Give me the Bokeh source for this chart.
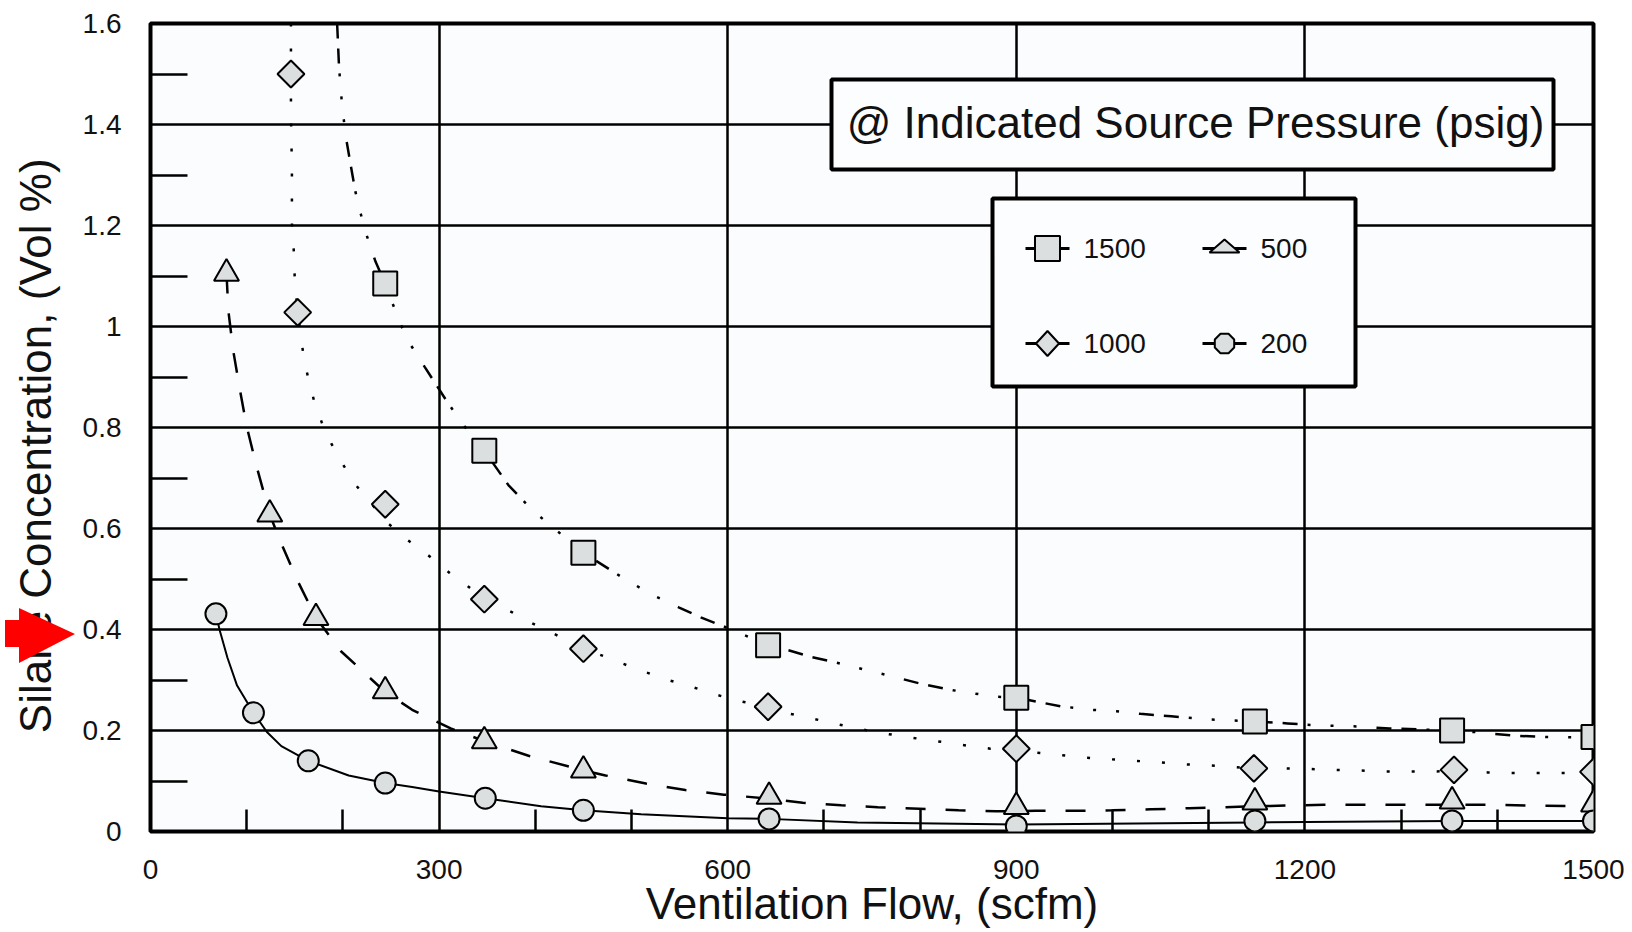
import math
from bokeh.plotting import figure
from bokeh.models import (Range1d, FixedTicker, CustomJSTickFormatter, Label,
                          BoxAnnotation, PolyAnnotation, Arrow, Div)
from bokeh.layouts import column
from bokeh.embed import file_html
from bokeh.resources import INLINE

# ---------------- data ----------------
x_ticks = [0, 300, 600, 900, 1200, 1500]
x_tick_labels = ["0", "300", "600", "900", "1200", "1500"]
x_minor_ticks = [100, 200, 400, 500, 700, 800, 1000, 1100, 1300, 1400]
y_ticks = [0, 0.2, 0.4, 0.6, 0.8, 1.0, 1.2, 1.4, 1.6]
y_tick_labels = ["0", "0.2", "0.4", "0.6", "0.8", "1", "1.2", "1.4", "1.6"]
y_minor_ticks = [0.1, 0.3, 0.5, 0.7, 0.9, 1.1, 1.3, 1.5]

x_label = "Ventilation Flow, (scfm)"
y_label = "Silane Concentration, (Vol %)"
title_text = "@ Indicated Source Pressure (psig)"
pressures = ["1500", "1000", "500", "200"]

# markers
sq_x = [244, 347, 450, 642, 900, 1148, 1353, 1500]
sq_y = [1.085, 0.754, 0.552, 0.369, 0.265, 0.218, 0.200, 0.187]
dm_x = [146, 153, 244, 347, 450, 642, 900, 1147, 1355, 1500]
dm_y = [1.50, 1.028, 0.648, 0.460, 0.362, 0.247, 0.164, 0.125, 0.122, 0.118]
tr_x = [79, 124, 172, 244, 347, 450, 643, 900, 1148, 1353, 1500]
tr_y = [1.105, 0.628, 0.423, 0.278, 0.179, 0.121, 0.069, 0.049, 0.058, 0.060, 0.054]
ci_x = [68, 107, 164, 244, 348, 450, 643, 900, 1148, 1353, 1500]
ci_y = [0.431, 0.235, 0.140, 0.096, 0.066, 0.042, 0.025, 0.011, 0.021, 0.021, 0.021]

# fitted curves as drawn in the picture
sq_curve_x = [194, 196, 199, 203, 208, 213, 222, 234, 244, 259, 270, 285, 308, 324, 347,
              372, 397, 421, 450, 488, 520, 549, 572, 596, 642, 661, 688, 712, 735, 765,
              800, 830, 854, 878, 900, 946, 978, 1004, 1029, 1061, 1099, 1148, 1182, 1213,
              1255, 1288, 1353, 1376, 1416, 1450, 1500]
sq_curve_y = [1.60, 1.513, 1.441, 1.376, 1.321, 1.267, 1.196, 1.128, 1.085, 1.008, 0.965,
              0.920, 0.852, 0.808, 0.754, 0.686, 0.636, 0.598, 0.552, 0.506, 0.470, 0.444,
              0.424, 0.406, 0.369, 0.360, 0.345, 0.335, 0.324, 0.310, 0.293, 0.281, 0.274,
              0.267, 0.265, 0.248, 0.241, 0.238, 0.233, 0.228, 0.222, 0.218, 0.214, 0.210,
              0.208, 0.204, 0.200, 0.197, 0.190, 0.187, 0.186]
dm_curve_x = [146, 146, 146, 147, 147, 149, 150, 153, 156, 159, 164, 170, 178, 188, 200,
              213, 247, 268, 290, 311, 331, 346, 376, 397, 420, 450, 466, 490, 514, 538,
              562, 586, 610, 642, 657, 681, 705, 728, 753, 777, 801, 824, 849, 873, 900,
              921, 947, 973, 998, 1023, 1049, 1074, 1100, 1147, 1176, 1202, 1229, 1256,
              1282, 1336, 1355, 1390, 1417, 1470, 1500]
dm_curve_y = [1.60, 1.50, 1.42, 1.314, 1.204, 1.148, 1.091, 1.028, 0.987, 0.942, 0.897,
              0.853, 0.810, 0.768, 0.727, 0.687, 0.610, 0.576, 0.545, 0.512, 0.484, 0.460,
              0.434, 0.412, 0.391, 0.362, 0.351, 0.333, 0.316, 0.300, 0.287, 0.272, 0.259,
              0.247, 0.236, 0.227, 0.216, 0.207, 0.197, 0.190, 0.183, 0.177, 0.170, 0.164,
              0.164, 0.156, 0.151, 0.146, 0.143, 0.140, 0.137, 0.133, 0.131, 0.125, 0.125,
              0.124, 0.122, 0.121, 0.119, 0.119, 0.120, 0.117, 0.116, 0.116, 0.118]
tr_curve_x = [79, 81, 86, 93, 100, 110, 124, 134, 152, 172, 198, 243, 272, 312, 347, 393,
              450, 473, 515, 556, 596, 643, 678, 718, 756, 799, 840, 879, 920, 960, 1000,
              1040, 1080, 1148, 1220, 1309, 1398, 1443, 1500]
tr_curve_y = [1.105, 1.030, 0.952, 0.874, 0.802, 0.725, 0.628, 0.579, 0.500, 0.423, 0.357,
              0.278, 0.241, 0.204, 0.179, 0.150, 0.121, 0.111, 0.095, 0.082, 0.073, 0.065,
              0.057, 0.052, 0.048, 0.045, 0.042, 0.040, 0.041, 0.041, 0.042, 0.044, 0.046,
              0.050, 0.053, 0.053, 0.053, 0.051, 0.050]
ci_curve_x = [68, 72, 80, 90, 107, 121, 136, 164, 206, 244, 272, 300, 348, 406, 450, 510,
              600, 643, 735, 900, 1148, 1353, 1500]
ci_curve_y = [0.431, 0.398, 0.344, 0.289, 0.235, 0.197, 0.169, 0.140, 0.111, 0.096, 0.088,
              0.079, 0.066, 0.050, 0.042, 0.034, 0.026, 0.025, 0.018, 0.014, 0.018, 0.021,
              0.021]

# ---------------- styling ----------------
FONT = "Liberation Sans"
INK = "black"
TXT = "#111111"
MFILL = "#dcdfdf"
BG = "#fbfcfd"

FW, FH = 1443, 808                  # frame size
BL, BT, BR, BB = 150, 23, 33, 101   # borders
FRAME_LEFT, FRAME_BOTTOM = BL, BT + FH


def sx(px):
    return px - FRAME_LEFT


def sy(py):
    return FRAME_BOTTOM - py


p = figure(width=BL + FW + BR, height=BT + FH + BB,
           x_range=Range1d(0, 1500), y_range=Range1d(0, 1.6),
           output_backend="svg", toolbar_location=None,
           min_border_left=BL, min_border_right=BR, min_border_top=BT, min_border_bottom=BB,
           background_fill_color=BG, border_fill_color="white")

p.outline_line_color = INK
p.outline_line_width = 4

p.xaxis.ticker = FixedTicker(ticks=x_ticks, minor_ticks=x_minor_ticks)
p.yaxis.ticker = FixedTicker(ticks=y_ticks, minor_ticks=y_minor_ticks)
fmt_code = """
let best = 0;
for (let i = 0; i < tv.length; i++) {
  if (Math.abs(tv[i] - tick) < Math.abs(tv[best] - tick)) best = i;
}
return tl[best];
"""
p.xaxis.formatter = CustomJSTickFormatter(args=dict(tv=x_ticks, tl=x_tick_labels), code=fmt_code)
p.yaxis.formatter = CustomJSTickFormatter(args=dict(tv=y_ticks, tl=y_tick_labels), code=fmt_code)

for ax in (p.xaxis, p.yaxis):
    ax.axis_line_color = None
    ax.major_tick_in = 0
    ax.major_tick_out = 0
    ax.minor_tick_out = 0
    ax.minor_tick_line_color = INK
    ax.minor_tick_line_width = 2.5
    ax.major_label_text_font = FONT
    ax.major_label_text_font_size = "28px"
    ax.major_label_text_color = TXT
    ax.axis_label_text_font = FONT
    ax.axis_label_text_font_size = "44px"
    ax.axis_label_text_font_style = "normal"
    ax.axis_label_text_color = TXT
p.xaxis.minor_tick_in = 22
p.yaxis.minor_tick_in = 37
p.xaxis.major_label_standoff = 28
p.yaxis.major_label_standoff = 29
p.xaxis.axis_label = x_label
# trailing no-break spaces nudge the centred label a little downward, as in the original
p.yaxis.axis_label = y_label + "\u00a0\u00a0\u00a0"
p.xaxis.axis_label_standoff = -3
p.yaxis.axis_label_standoff = 20

p.grid.grid_line_color = INK
p.grid.grid_line_width = 2.5
p.xgrid.ticker = FixedTicker(ticks=x_ticks)
p.ygrid.ticker = FixedTicker(ticks=y_ticks)

# ---------------- curves ----------------
p.line(sq_curve_x, sq_curve_y, line_color=INK, line_width=2.5, line_dash="15 10 15 10 3 20 3 20 3 20")
p.line(dm_curve_x, dm_curve_y, line_color=INK, line_width=2.5, line_dash="3 22")
p.line(tr_curve_x, tr_curve_y, line_color=INK, line_width=2.5, line_dash="20 20")
p.line(ci_curve_x, ci_curve_y, line_color=INK, line_width=2)

# ---------------- markers ----------------
p.scatter(sq_x, sq_y, marker="square", size=24, fill_color=MFILL, line_color=INK, line_width=2)
p.scatter(dm_x, dm_y, marker="square", angle=math.pi / 4, size=19, fill_color=MFILL,
          line_color=INK, line_width=2)
p.scatter(tr_x, tr_y, marker="triangle", size=25, fill_color=MFILL, line_color=INK, line_width=2)
p.scatter(ci_x, ci_y, marker="circle", size=21, fill_color=MFILL, line_color=INK, line_width=2)

# ---------------- title box ----------------
p.add_layout(BoxAnnotation(left=sx(831), right=sx(1553), top=sy(79), bottom=sy(169),
                           left_units="screen", right_units="screen",
                           top_units="screen", bottom_units="screen",
                           fill_color="#fcfdfe", fill_alpha=1,
                           line_color=INK, line_alpha=1, line_width=4))
p.add_layout(Label(x=sx(1195), y=sy(122), x_units="screen", y_units="screen",
                   text=title_text, text_font=FONT, text_font_size="44px",
                   text_color=TXT, text_align="center", text_baseline="middle"))

# ---------------- legend (drawn as annotations) ----------------
p.add_layout(BoxAnnotation(left=sx(992), right=sx(1355), top=sy(198), bottom=sy(386),
                           left_units="screen", right_units="screen",
                           top_units="screen", bottom_units="screen",
                           fill_color="#fcfdfe", fill_alpha=1,
                           line_color=INK, line_alpha=1, line_width=4))

col_glyph_x = {"1500": 1047, "1000": 1047, "500": 1224, "200": 1224}
row_y = {"1500": 248, "500": 248, "1000": 343, "200": 343}
shapes = {
    "1500": [(-12.5, -12.5), (12.5, -12.5), (12.5, 12.5), (-12.5, 12.5)],
    "1000": [(0, 12.5), (11.5, 0), (0, -12.5), (-11.5, 0)],
    "500": [(-15, -4), (15, -4), (0, 9)],
    "200": [(10.5 * math.cos(math.pi / 8 + k * math.pi / 4),
             10.5 * math.sin(math.pi / 8 + k * math.pi / 4)) for k in range(8)],
}
for name in pressures:
    cx, cy = col_glyph_x[name], row_y[name]
    p.add_layout(Arrow(start=None, end=None, x_start=sx(cx - 22), y_start=sy(cy),
                       x_end=sx(cx + 22), y_end=sy(cy), start_units="screen", end_units="screen",
                       line_color=INK, line_width=3))
    pts = shapes[name]
    p.add_layout(PolyAnnotation(xs=[sx(cx) + a for a, b in pts], ys=[sy(cy) + b for a, b in pts],
                                xs_units="screen", ys_units="screen",
                                fill_color=MFILL, fill_alpha=1,
                                line_color=INK, line_alpha=1, line_width=2))
    p.add_layout(Label(x=sx(cx + 36), y=sy(cy), x_units="screen", y_units="screen",
                       text=name, text_font=FONT, text_font_size="28px", text_color=TXT,
                       text_align="left", text_baseline="middle"))

# ---------------- red pointer arrow (outside the frame, drawn as an overlay) ----------------
arrow_svg = ('<svg width="72" height="58" xmlns="http://www.w3.org/2000/svg">'
             '<polygon points="0,12 14,12 14,0 70,26 14,55 14,39 0,39" fill="#ff0000"/></svg>')
arrow_div = Div(text=arrow_svg, width=72, height=58,
                styles={"position": "absolute", "left": "0px", "top": "603px", "z-index": "10"})

layout = column(p, arrow_div)
open("out.html", "w").write(file_html(layout, INLINE))
